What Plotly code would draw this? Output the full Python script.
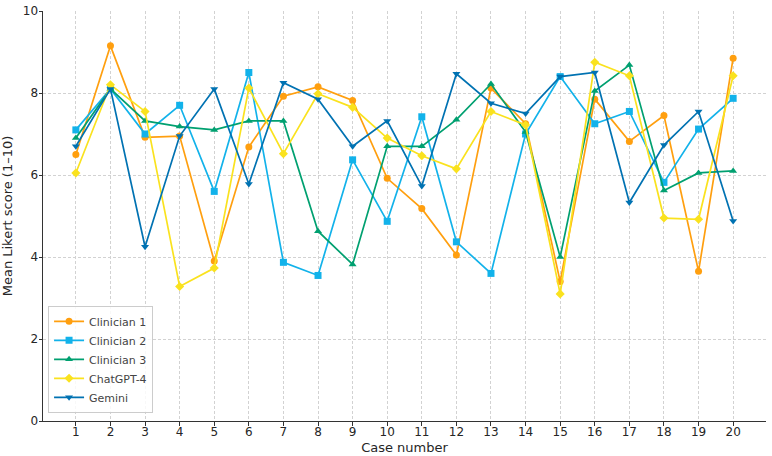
import plotly.graph_objects as go

cases = list(range(1, 21))
clinician1 = [6.5, 9.15, 6.92, 6.95, 3.9, 6.68, 7.92, 8.15, 7.82, 5.92, 5.18, 4.05, 8.12, 7.25, 3.4, 7.85, 6.82, 7.45, 3.65, 8.85]
clinician2 = [7.1, 8.1, 7.0, 7.7, 5.6, 8.5, 3.87, 3.55, 6.37, 4.87, 7.42, 4.37, 3.6, 7.0, 8.4, 7.25, 7.55, 5.82, 7.12, 7.87]
clinician3 = [6.9, 8.1, 7.32, 7.18, 7.1, 7.32, 7.32, 4.63, 3.82, 6.7, 6.7, 7.35, 8.22, 7.05, 4.0, 8.05, 8.68, 5.62, 6.05, 6.1]
chatgpt4 = [6.05, 8.2, 7.55, 3.28, 3.73, 8.12, 6.52, 7.98, 7.65, 6.9, 6.47, 6.15, 7.55, 7.22, 3.1, 8.75, 8.42, 4.95, 4.92, 8.42]
gemini = [6.7, 8.1, 4.25, 6.95, 8.1, 5.78, 8.25, 7.85, 6.7, 7.32, 5.73, 8.47, 7.75, 7.5, 8.4, 8.5, 5.33, 6.73, 7.55, 4.88]

series = [
    ("Clinician 1", clinician1, "#FF9F0F", "circle"),
    ("Clinician 2", clinician2, "#12B2EA", "square"),
    ("Clinician 3", clinician3, "#00A070", "triangle-up"),
    ("ChatGPT-4", chatgpt4, "#FAE21E", "diamond"),
    ("Gemini", gemini, "#0072B2", "triangle-down"),
]

fig = go.Figure()
for name, vals, color, sym in series:
    fig.add_trace(go.Scatter(
        x=cases, y=vals, name=name, mode="lines+markers",
        line=dict(color=color, width=1.7),
        marker=dict(symbol=sym, size=7, color=color),
    ))

font = "DejaVu Sans, Arial, sans-serif"
fig.update_layout(
    width=772, height=456,
    margin=dict(l=43, r=6, t=11, b=35),
    paper_bgcolor="white", plot_bgcolor="white",
    font=dict(family=font, size=12, color="#262626"),
    showlegend=True,
    legend=dict(
        x=0.007, y=0.02, xanchor="left", yanchor="bottom",
        bgcolor="rgba(255,255,255,0.85)", bordercolor="#cccccc", borderwidth=1,
        font=dict(size=11, color="#444444"),
        itemwidth=30, tracegroupgap=0,
    ),
    xaxis=dict(
        range=[0.05, 20.95], tickmode="array", tickvals=cases,
        ticktext=[str(c) for c in cases],
        showgrid=True, gridcolor="#d2d2d2", griddash="3px,2px", gridwidth=0.8,
        showline=True, linecolor="#333333", linewidth=1,
        ticks="outside", ticklen=3.5, tickcolor="#333333",
        ticklabelstandoff=-4,
        title=dict(text="Case number", font=dict(size=13), standoff=4),
        zeroline=False, automargin=False,
    ),
    yaxis=dict(
        range=[0, 10], tickvals=[0, 2, 4, 6, 8, 10],
        showgrid=True, gridcolor="#d2d2d2", griddash="3px,2px", gridwidth=0.8,
        showline=True, linecolor="#333333", linewidth=1,
        ticks="outside", ticklen=3.5, tickcolor="#333333",
        ticklabelstandoff=-2,
        title=dict(text="Mean Likert score (1–10)", font=dict(size=13), standoff=8),
        zeroline=False, automargin=False,
    ),
)

fig.write_html("out.html")
